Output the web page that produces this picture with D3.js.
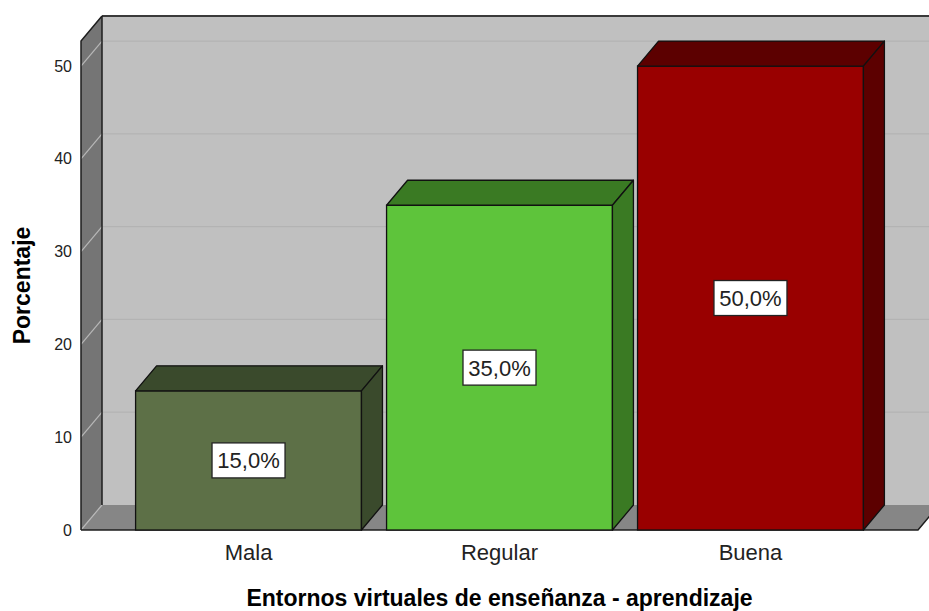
<!DOCTYPE html>
<html>
<head>
<meta charset="utf-8">
<script src="https://cdn.jsdelivr.net/npm/d3@7"></script>
<style>
    body { margin: 0; background: #fff; }
    svg { display: block; font-family: "Liberation Sans", Arial, sans-serif; }
</style>
</head>
<body>
<div id="chart"></div>
<script>
"use strict";

// data
const categories = ["Mala", "Regular", "Buena"];
const percentages = [15, 35, 50];
const yTicks = [0, 10, 20, 30, 40, 50];
const xTitle = "Entornos virtuales de enseñanza - aprendizaje";
const yTitle = "Porcentaje";

// colours per bar: front, top, side
const frontColors = ["#5d7047", "#5ec43b", "#990000"];
const shadeColors = ["#3a4a2c", "#3a7a23", "#5c0000"];

function main() {
    const width = 929, height = 611;
    const left = 81, right = 918, bottom = 530, top = 41;
    const dx = 21, dy = -25;   // depth of the 3D box

    const svg = d3.select("#chart").append("svg")
        .attr("width", width).attr("height", height);

    const x = d3.scaleBand()
        .domain(categories)
        .range([left, right])
        .paddingInner(0.1)
        .paddingOuter(0.2175);
    const y = d3.scaleLinear()
        .domain([0, 52.7])
        .range([bottom, top]);

    // back wall
    svg.append("rect")
        .attr("x", left + dx).attr("y", top + dy)
        .attr("width", width - left - dx + 20).attr("height", bottom - top)
        .attr("fill", "#c0c0c0");
    // side wall
    svg.append("polygon")
        .attr("points", [[left, top], [left + dx, top + dy], [left + dx, bottom + dy], [left, bottom]].join(" "))
        .attr("fill", "#757575");
    // floor
    svg.append("polygon")
        .attr("points", [[left, bottom], [left + dx, bottom + dy], [right + dx, bottom + dy], [right, bottom]].join(" "))
        .attr("fill", "#868686");

    // grid lines on the walls
    const grid = svg.append("g");
    grid.selectAll("line.back")
        .data(yTicks.filter(function (d) { return d > 0; }))
        .enter().append("line")
        .attr("class", "back")
        .attr("x1", left + dx).attr("x2", width)
        .attr("y1", function (d) { return y(d) + dy; })
        .attr("y2", function (d) { return y(d) + dy; })
        .attr("stroke", "#b3b3b3").attr("stroke-width", 1.2);
    grid.selectAll("line.side")
        .data(yTicks)
        .enter().append("line")
        .attr("class", "side")
        .attr("x1", left).attr("x2", left + dx)
        .attr("y1", function (d) { return y(d); })
        .attr("y2", function (d) { return y(d) + dy; })
        .attr("stroke", "#b8b8b8").attr("stroke-width", 1.2);

    // wall edges
    const edge = "#1e1e1e";
    svg.append("line")
        .attr("x1", left + dx).attr("x2", width).attr("y1", top + dy).attr("y2", top + dy)
        .attr("stroke", "#3a3a3a").attr("stroke-width", 2);
    svg.append("line")
        .attr("x1", left + dx).attr("x2", left + dx).attr("y1", top + dy).attr("y2", bottom + dy)
        .attr("stroke", edge).attr("stroke-width", 1.5);
    svg.append("polyline")
        .attr("points", [[left, bottom], [left, top], [left + dx, top + dy]].join(" "))
        .attr("fill", "none").attr("stroke", edge).attr("stroke-width", 1.5);
    svg.append("polyline")
        .attr("points", [[left, bottom], [right, bottom], [right + dx, bottom + dy]].join(" "))
        .attr("fill", "none").attr("stroke", edge).attr("stroke-width", 1.5);

    // bars
    const bars = svg.append("g").selectAll("g")
        .data(percentages)
        .enter().append("g");
    bars.append("rect")
        .attr("x", function (d, i) { return x(categories[i]); })
        .attr("y", function (d) { return y(d); })
        .attr("width", x.bandwidth())
        .attr("height", function (d) { return y(0) - y(d); })
        .attr("fill", function (d, i) { return frontColors[i]; })
        .attr("stroke", "#111").attr("stroke-width", 1.3);
    bars.append("polygon")
        .attr("points", function (d, i) {
            const x0 = x(categories[i]), x1 = x0 + x.bandwidth(), yt = y(d);
            return [[x0, yt], [x0 + dx, yt + dy], [x1 + dx, yt + dy], [x1, yt]].join(" ");
        })
        .attr("fill", function (d, i) { return shadeColors[i]; })
        .attr("stroke", "#111").attr("stroke-width", 1.3).attr("stroke-linejoin", "round");
    bars.append("polygon")
        .attr("points", function (d, i) {
            const x1 = x(categories[i]) + x.bandwidth(), yt = y(d);
            return [[x1, yt], [x1 + dx, yt + dy], [x1 + dx, y(0) + dy], [x1, y(0)]].join(" ");
        })
        .attr("fill", function (d, i) { return shadeColors[i]; })
        .attr("stroke", "#111").attr("stroke-width", 1.3).attr("stroke-linejoin", "round");

    // value labels
    const fmt = function (d) { return d3.format(".1f")(d).replace(".", ",") + "%"; };
    const labels = bars.append("g")
        .attr("transform", function (d, i) {
            return "translate(" + (x(categories[i]) + x.bandwidth() / 2) + "," + ((y(0) + y(d)) / 2) + ")";
        });
    labels.append("rect")
        .attr("x", -36.5).attr("y", -17.5).attr("width", 73).attr("height", 35)
        .attr("fill", "#fff").attr("stroke", "#222").attr("stroke-width", 1.3);
    labels.append("text")
        .attr("text-anchor", "middle").attr("y", 8)
        .attr("font-size", 22).attr("fill", "#222")
        .text(fmt);

    // axes
    const yAxis = d3.axisLeft(y).tickValues(yTicks).tickSize(0).tickPadding(9);
    const yg = svg.append("g")
        .attr("transform", "translate(" + left + ",0)")
        .call(yAxis);
    yg.select(".domain").remove();
    yg.selectAll("text").attr("font-size", 16).attr("fill", "#222")
        .attr("font-family", "\"Liberation Sans\", Arial, sans-serif");

    const xAxis = d3.axisBottom(x).tickSize(0).tickPadding(14);
    const xg = svg.append("g")
        .attr("transform", "translate(0," + bottom + ")")
        .call(xAxis);
    xg.select(".domain").remove();
    xg.selectAll("text").attr("font-size", 22).attr("fill", "#222")
        .attr("font-family", "\"Liberation Sans\", Arial, sans-serif");

    svg.append("text")
        .attr("x", (left + right) / 2).attr("y", 606)
        .attr("text-anchor", "middle")
        .attr("font-size", 23).attr("font-weight", "bold")
        .text(xTitle);
    svg.append("text")
        .attr("transform", "translate(30," + ((top + bottom) / 2) + ") rotate(-90)")
        .attr("text-anchor", "middle")
        .attr("font-size", 23).attr("font-weight", "bold")
        .text(yTitle);
}

main();
</script>
</body>
</html>
